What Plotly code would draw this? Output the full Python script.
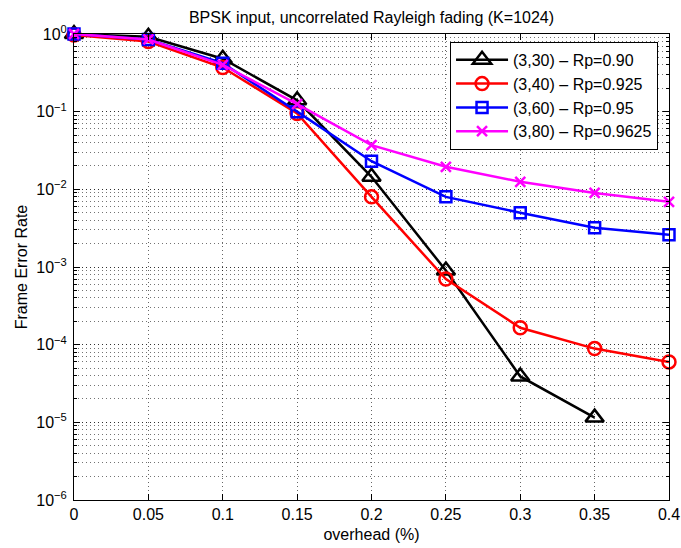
import plotly.graph_objects as go

overhead = [0, 0.05, 0.1, 0.15, 0.2, 0.25, 0.3, 0.35, 0.4]
fer_3_30 = [1.0, 0.92, 0.48, 0.14, 0.0145, 9.0e-4, 3.9e-5, 1.15e-5]
fer_3_40 = [0.97, 0.80, 0.37, 0.095, 0.008, 7.0e-4, 1.65e-4, 8.9e-5, 6.0e-5]
fer_3_60 = [1.0, 0.85, 0.42, 0.10, 0.023, 0.008, 0.005, 0.0032, 0.0026]
fer_3_80 = [1.0, 0.85, 0.40, 0.125, 0.037, 0.0195, 0.0125, 0.009, 0.0069]

names = ["(3,30) – Rp=0.90", "(3,40) – Rp=0.925", "(3,60) – Rp=0.95", "(3,80) – Rp=0.9625"]
x_ticks = [0, 0.05, 0.1, 0.15, 0.2, 0.25, 0.3, 0.35, 0.4]
x_ticklabels = ["0", "0.05", "0.1", "0.15", "0.2", "0.25", "0.3", "0.35", "0.4"]
y_ticks = [1, 1e-1, 1e-2, 1e-3, 1e-4, 1e-5, 1e-6]
y_ticklabels = ["10<sup>0</sup>", "10<sup>−1</sup>", "10<sup>−2</sup>", "10<sup>−3</sup>",
                "10<sup>−4</sup>", "10<sup>−5</sup>", "10<sup>−6</sup>"]

series = [
    (fer_3_30, "black", "triangle-up-open", 16),
    (fer_3_40, "red", "circle-open", 13),
    (fer_3_60, "blue", "square-open", 11),
    (fer_3_80, "magenta", "x-thin-open", 10),
]

fig = go.Figure()
for (vals, color, sym, size), name in zip(series, names):
    fig.add_trace(go.Scatter(
        x=overhead[:len(vals)], y=vals, name=name, mode="lines+markers",
        line=dict(color=color, width=2.5), cliponaxis=False,
        marker=dict(symbol=sym, size=size, color=color, line=dict(color=color, width=2.5)),
    ))

font = "Liberation Sans, Arial, sans-serif"
grid_dash = "1px,3px"
fig.update_layout(
    width=681, height=548, autosize=False,
    margin=dict(l=74, r=12, t=34, b=48, autoexpand=False),
    paper_bgcolor="white", plot_bgcolor="white",
    font=dict(family=font, size=16, color="black"),
    title=dict(text="BPSK input, uncorrelated Rayleigh fading (K=1024)", x=0.5, xref="paper",
               xanchor="center", y=0.969, yanchor="middle", font=dict(size=16)),
    showlegend=True,
    legend=dict(x=0.632, y=0.983, xanchor="left", yanchor="top", bgcolor="white",
                bordercolor="black", borderwidth=1, font=dict(size=16),
                itemwidth=52, tracegroupgap=0),
    xaxis=dict(
        range=[0, 0.4], tickvals=x_ticks, ticktext=x_ticklabels, automargin=False,
        showline=True, linecolor="black", linewidth=1, mirror="ticks",
        ticks="inside", ticklen=6, tickcolor="black",
        showgrid=True, gridcolor="rgba(0,0,0,0.6)", griddash=grid_dash, gridwidth=1,
        zeroline=False, tickfont=dict(size=16),
        title=dict(text="overhead (%)", standoff=6, font=dict(size=16)),
    ),
    yaxis=dict(
        type="log", range=[-6, 0], tickvals=y_ticks, ticktext=y_ticklabels, automargin=False,
        showline=True, linecolor="black", linewidth=1, mirror="ticks",
        ticks="inside", ticklen=6, tickcolor="black", ticklabelstandoff=3,
        showgrid=True, gridcolor="rgba(0,0,0,0.6)", griddash=grid_dash, gridwidth=1,
        minor=dict(dtick="D1", showgrid=True, gridcolor="rgba(0,0,0,0.55)", griddash=grid_dash,
                   ticks="inside", ticklen=3, tickcolor="black"),
        zeroline=False, tickfont=dict(size=16),
        title=dict(text="Frame Error Rate", standoff=4, font=dict(size=16)),
    ),
)

fig.write_html(
    "out.html",
    config={"displayModeBar": False, "responsive": False},
    post_script="document.body.style.margin='0';document.body.style.padding='0';"
                "document.body.style.overflow='hidden';",
)
